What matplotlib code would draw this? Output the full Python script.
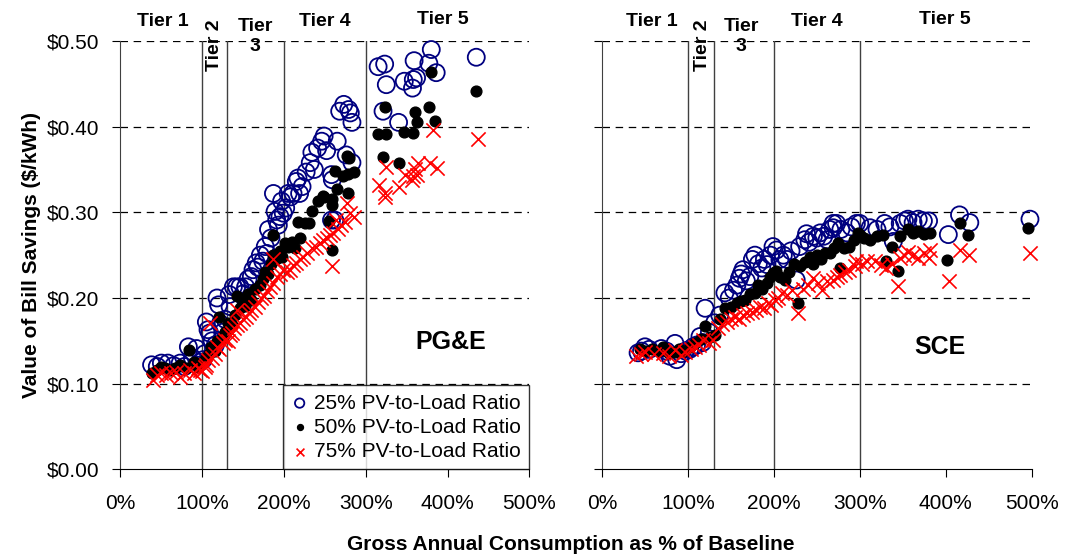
import numpy as np
import matplotlib
matplotlib.use('Agg')
import matplotlib.pyplot as plt
from matplotlib.ticker import FuncFormatter, MultipleLocator

plt.rcParams['font.family'] = ['Liberation Sans', 'DejaVu Sans']

# Data: (gross consumption % of baseline, bill savings $/kWh)

pge_25 = [(38, .122), (45, .120), (50, .124), (58, .124), (65, .121), (73, .124), (78, .120),
          (83, .143), (88, .130), (93, .141), (97, .125), (101, .128), (103, .135), (105, .172),
          (107, .163), (109, .159), (112, .150), (116, .145), (118, .200), (120, .192), (122, .170),
          (125, .160), (128, .175), (133, .204), (134, .190), (138, .213), (142, .213), (146, .213),
          (150, .205), (153, .213), (156, .222), (160, .225), (162, .233), (166, .241), (168, .236),
          (171, .250), (174, .243), (177, .260), (179, .252), (181, .280), (184, .270), (187, .322),
          (189, .301), (191, .291), (193, .285), (195, .295), (197, .313), (199, .299), (202, .305),
          (205, .322), (208, .318), (211, .322), (215, .336), (217, .340), (219, .322), (222, .330),
          (227, .347), (232, .358), (234, .370), (237, .350), (241, .375), (246, .383), (249, .389),
          (252, .372), (258, .344), (258, .291), (259, .338), (262, .291), (265, .383), (268, .418),
          (273, .426), (276, .367), (279, .420), (281, .416), (283, .405), (283, .358), (315, .470),
          (321, .418), (323, .473), (325, .449), (340, .405), (347, .453), (357, .445), (358, .455),
          (359, .477), (362, .457), (377, .474), (380, .490), (386, .463), (435, .481)]

pge_50 = [(38, .113), (45, .116), (50, .120), (55, .118), (60, .116), (67, .118), (73, .122),
          (80, .118), (84, .139), (90, .125), (95, .120), (100, .125), (105, .130), (108, .135),
          (111, .143), (115, .138), (118, .150), (121, .178), (125, .155), (128, .160), (132, .171),
          (136, .168), (140, .180), (142, .202), (146, .188), (150, .195), (152, .191), (156, .205),
          (160, .198), (165, .210), (170, .215), (174, .222), (177, .230), (180, .228), (184, .240),
          (187, .250), (187, .274), (190, .245), (195, .255), (198, .248), (201, .264), (205, .260),
          (210, .265), (213, .258), (217, .289), (220, .270), (226, .288), (230, .287), (234, .302),
          (242, .313), (247, .319), (249, .318), (255, .290), (258, .309), (258, .256), (258, .315),
          (262, .348), (265, .327), (272, .342), (277, .366), (278, .345), (278, .322), (280, .363),
          (285, .347), (315, .391), (321, .365), (323, .423), (325, .391), (341, .358), (347, .394),
          (358, .393), (360, .417), (362, .405), (377, .423), (380, .464), (385, .407), (435, .442)]

pge_75 = [(40, .104), (45, .110), (50, .112), (56, .110), (62, .112), (68, .114), (73, .108),
          (78, .112), (85, .116), (90, .113), (95, .118), (97, .116), (100, .115), (103, .120),
          (105, .122), (107, .128), (109, .171), (112, .130), (115, .135), (118, .143), (121, .140),
          (125, .148), (128, .151), (131, .150), (134, .157), (136, .159), (139, .165), (142, .186),
          (143, .168), (146, .171), (150, .176), (154, .178), (157, .182), (160, .186), (164, .190),
          (168, .195), (172, .200), (175, .202), (179, .208), (183, .213), (187, .245), (187, .218),
          (191, .225), (195, .228), (199, .233), (203, .230), (207, .233), (211, .238), (215, .241),
          (219, .245), (223, .248), (228, .252), (234, .258), (239, .260), (244, .264), (248, .268),
          (252, .270), (256, .273), (258, .237), (260, .276), (263, .291), (266, .280), (270, .285),
          (274, .289), (277, .311), (281, .299), (285, .295), (316, .332), (323, .322), (323, .318),
          (325, .353), (341, .330), (348, .343), (356, .338), (358, .342), (360, .350), (362, .344),
          (364, .357), (378, .358), (382, .396), (387, .352), (437, .385)]

sce_25 = [(42, .136), (46, .138), (50, .143), (55, .140), (69, .141), (75, .138), (79, .132),
          (85, .147), (87, .128), (92, .135), (97, .138), (102, .140), (106, .143), (110, .145),
          (114, .155), (117, .148), (120, .188), (125, .160), (131, .171), (137, .180), (143, .206),
          (148, .200), (153, .209), (157, .215), (160, .223), (162, .228), (164, .233), (168, .220),
          (172, .225), (175, .245), (178, .250), (182, .240), (186, .235), (189, .245), (192, .239),
          (196, .250), (199, .260), (203, .256), (207, .245), (211, .250), (215, .245), (220, .255),
          (226, .221), (230, .260), (236, .268), (238, .275), (241, .265), (246, .272), (250, .270),
          (254, .276), (258, .272), (262, .268), (265, .280), (269, .282), (269, .287), (273, .287),
          (278, .280), (285, .276), (290, .283), (296, .287), (300, .287), (312, .282), (320, .280),
          (329, .287), (335, .283), (339, .266), (347, .287), (352, .290), (356, .292), (362, .288),
          (368, .292), (374, .290), (380, .290), (403, .274), (416, .297), (428, .288), (498, .292)]

sce_50 = [(44, .141), (50, .138), (58, .140), (66, .138), (71, .143), (78, .136), (85, .137),
          (90, .140), (96, .138), (102, .143), (108, .148), (115, .152), (120, .167), (126, .155),
          (131, .157), (137, .175), (143, .188), (150, .190), (157, .194), (162, .196), (166, .198),
          (172, .205), (178, .206), (182, .215), (186, .210), (192, .217), (196, .225), (199, .229),
          (203, .232), (207, .225), (213, .221), (218, .230), (224, .240), (228, .194), (230, .237),
          (236, .242), (242, .248), (246, .240), (250, .250), (255, .245), (260, .252), (265, .252),
          (270, .258), (275, .264), (277, .235), (282, .258), (288, .260), (293, .268), (298, .276),
          (300, .274), (305, .270), (312, .268), (320, .272), (327, .274), (331, .243), (337, .260),
          (345, .231), (347, .272), (356, .280), (362, .276), (368, .278), (375, .275), (382, .276),
          (401, .244), (416, .287), (426, .274), (496, .282)]

sce_75 = [(40, .132), (45, .135), (50, .137), (60, .135), (71, .136), (78, .132), (85, .139),
          (92, .134), (97, .137), (103, .140), (108, .143), (113, .145), (118, .151), (124, .148),
          (129, .151), (135, .165), (140, .170), (145, .172), (150, .175), (155, .178), (160, .176),
          (164, .180), (169, .182), (174, .184), (179, .186), (184, .190), (188, .188), (193, .194),
          (197, .192), (201, .198), (205, .200), (209, .206), (215, .203), (221, .209), (228, .182),
          (234, .211), (240, .215), (246, .223), (251, .218), (256, .209), (262, .220), (269, .221),
          (274, .225), (277, .227), (283, .230), (288, .233), (294, .237), (296, .243), (302, .240),
          (308, .243), (318, .243), (325, .238), (331, .235), (338, .240), (345, .214), (347, .247),
          (352, .250), (356, .254), (362, .250), (368, .247), (375, .252), (380, .247), (382, .256),
          (404, .220), (417, .256), (427, .250), (498, .253)]

tier_bounds = [100, 130, 200, 300]
series_labels = ['25% PV-to-Load Ratio', '50% PV-to-Load Ratio', '75% PV-to-Load Ratio']

# Plotting

fig = plt.figure(figsize=(10.7, 5.56), dpi=100)
ax1 = fig.add_axes([0.1126, 0.1559, 0.3822, 0.7704])
ax2 = fig.add_axes([0.5626, 0.1559, 0.4016, 0.7704])


def setup(ax, data, name, name_xy, tier_x, show_y):
    ax.set_xlim(0, 500)
    ax.set_ylim(0, 0.5)
    for y in [0.1, 0.2, 0.3, 0.4, 0.5]:
        ax.axhline(y, color='black', lw=0.9, ls=(0, (6, 4.5)), zorder=1)
    for x in tier_bounds:
        ax.axvline(x, color='#404040', lw=1.0, zorder=1)
    for sp in ['top', 'right']:
        ax.spines[sp].set_visible(False)
    ax.spines['left'].set_color('#404040')
    ax.spines['bottom'].set_color('black')

    d25, d50, d75 = [np.array(d) for d in data]
    ax.scatter(d25[:, 0], d25[:, 1], s=150, facecolors='none', edgecolors='#000080',
               linewidths=1.3, zorder=3, clip_on=False, label=series_labels[0])
    ax.scatter(d50[:, 0], d50[:, 1], s=60, color='black', zorder=4, clip_on=False,
               label=series_labels[1])
    ax.scatter(d75[:, 0], d75[:, 1], s=105, marker='x', color='red', linewidths=1.2,
               zorder=5, clip_on=False, label=series_labels[2])

    ax.xaxis.set_major_locator(MultipleLocator(100))
    ax.yaxis.set_major_locator(MultipleLocator(0.1))
    ax.xaxis.set_major_formatter(FuncFormatter(lambda v, p: f'{v:.0f}%'))
    ax.yaxis.set_major_formatter(FuncFormatter(lambda v, p: f'${v:.2f}'))
    ax.tick_params(axis='x', direction='out', length=6, pad=12, labelsize=15)
    ax.tick_params(axis='y', direction='out', length=6, pad=9, labelsize=15,
                   labelleft=show_y)

    ax.text(name_xy[0], name_xy[1], name, fontsize=18, fontweight='bold',
            ha='center', va='center', zorder=6)

    tk = dict(fontsize=14, fontweight='bold', ha='center', clip_on=False)
    ax.text(tier_x[0], 0.523, 'Tier 1', va='center', **tk)
    ax.text(tier_x[1], 0.495, 'Tier 2', va='center', rotation=90, **tk)
    ax.text(tier_x[2], 0.505, 'Tier\n3', va='center', linespacing=1.25, **tk)
    ax.text(tier_x[3], 0.523, 'Tier 4', va='center', **tk)
    ax.text(tier_x[4], 0.525, 'Tier 5', va='center', **tk)


setup(ax1, [pge_25, pge_50, pge_75], 'PG&E', (404, 0.149), [52, 115.5, 165, 250, 394], True)
setup(ax2, [sce_25, sce_50, sce_75], 'SCE', (393, 0.143), [58, 117, 162, 250, 399], False)

ax1.set_ylabel('Value of Bill Savings ($/kWh)', fontsize=15, fontweight='bold', labelpad=4)

leg = ax1.legend(loc='lower right', bbox_to_anchor=(1.0, 0.0), borderaxespad=0,
                 fontsize=15, frameon=True, fancybox=False, handlelength=0.8,
                 handletextpad=0.3, labelspacing=0.25, borderpad=0.4,
                 markerscale=0.55, scatterpoints=1)
leg.get_frame().set_edgecolor('black')
leg.get_frame().set_linewidth(1.0)
leg.set_zorder(10)

fig.text(0.533, 0.02, 'Gross Annual Consumption as % of Baseline', fontsize=15,
         fontweight='bold', ha='center', va='center')

fig.savefig('out.png', dpi=100)
